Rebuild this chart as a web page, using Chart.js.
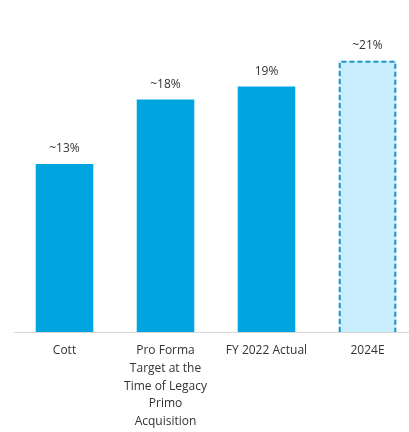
<!DOCTYPE html>
<html>
<head>
<meta charset="utf-8">
<script src="https://cdn.jsdelivr.net/npm/chart.js@4"></script>
<style>
  html, body { margin: 0; padding: 0; background: #fff; overflow: hidden; }
  #wrap { width: 420px; height: 432px; }
</style>
</head>
<body>
<div id="wrap"><canvas id="chart"></canvas></div>
<script>
// data
const categories = [
  'Cott',
  ['Pro Forma', 'Target at the', 'Time of Legacy', 'Primo', 'Acquisition'],
  'FY 2022 Actual',
  '2024E'
];
const margins = [13, 18, 19, 21];
const valueLabels = ['~13%', '~18%', '19%', '~21%'];

const solid = '#00a5df';
const light = '#c8edfc';
const dash = '#1b95c5';

// labels above the bars + dashed outline on the estimate bar
const barExtras = {
  id: 'barExtras',
  afterDatasetsDraw(chart) {
    const ctx = chart.ctx;
    const meta = chart.getDatasetMeta(0);
    ctx.save();
    meta.data.forEach((bar, i) => {
      if (i === 3) {
        const half = bar.width / 2;
        ctx.strokeStyle = dash;
        ctx.lineWidth = 2;
        ctx.setLineDash([5, 3]);
        ctx.beginPath();
        ctx.moveTo(bar.x - half + 1, bar.base);
        ctx.lineTo(bar.x - half + 1, bar.y + 1);
        ctx.lineTo(bar.x + half - 1, bar.y + 1);
        ctx.lineTo(bar.x + half - 1, bar.base);
        ctx.stroke();
        ctx.setLineDash([]);
      }
      ctx.fillStyle = '#333';
      ctx.font = '12px "Open Sans", sans-serif';
      ctx.textAlign = 'center';
      ctx.textBaseline = 'middle';
      ctx.fillText(valueLabels[i], bar.x, bar.y - 15);
    });
    ctx.restore();
  }
};

new Chart(document.getElementById('chart'), {
  type: 'bar',
  data: {
    labels: categories,
    datasets: [{
      data: margins,
      backgroundColor: [solid, solid, solid, light],
      borderWidth: 0,
      barPercentage: 0.57,
      categoryPercentage: 1
    }]
  },
  options: {
    responsive: true,
    maintainAspectRatio: false,
    animation: false,
    layout: { padding: { top: 9, left: 14, right: 2, bottom: 0 } },
    plugins: { legend: { display: false }, tooltip: { enabled: false } },
    scales: {
      x: {
        grid: { display: false, drawTicks: false },
        border: { display: true, color: '#d9d9d9', width: 1 },
        ticks: {
          color: '#333',
          padding: 10,
          maxRotation: 0,
          autoSkip: false,
          font: { family: '"Open Sans", sans-serif', size: 12, lineHeight: 1.47 }
        },
        afterFit: scale => { scale.height = 100; }
      },
      y: { display: false, min: 0, max: 25 }
    }
  },
  plugins: [barExtras]
});
</script>
</body>
</html>
